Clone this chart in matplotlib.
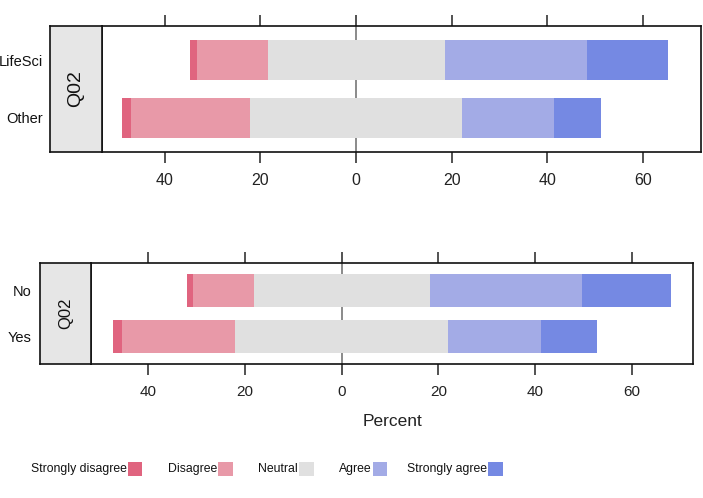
import matplotlib
matplotlib.use("Agg")
import matplotlib.pyplot as plt
from matplotlib.patches import Rectangle
import numpy as np

plt.rcParams['font.family'] = ['Liberation Sans', 'DejaVu Sans']

# response levels and colours
levels = ['Strongly disagree', 'Disagree', 'Neutral', 'Agree', 'Strongly agree']
colors = ['#E0647F', '#E899A8', '#E0E0E0', '#A3ABE6', '#7589E3']

# top panel (percent)
top_groups = ['LifeSci', 'Other']
top_sd = [1.5, 1.8]
top_d = [14.8, 25.0]
top_n = [37.0, 44.2]
top_a = [29.7, 19.3]
top_sa = [17.1, 9.9]

# bottom panel (percent)
bot_groups = ['No', 'Yes']
bot_sd = [1.4, 1.9]
bot_d = [12.5, 23.5]
bot_n = [36.4, 44.0]
bot_a = [31.6, 19.3]
bot_sa = [18.4, 11.6]

tick_vals = [-40, -20, 0, 20, 40, 60]
tick_labels = ['40', '20', '0', '20', '40', '60']
strip_label = 'Q02'

W, H = 703, 498
fig = plt.figure(figsize=(W / 100, H / 100), dpi=100)


def fr(x0, x1, y0, y1):
    # pixel box -> figure fraction rect
    return [x0 / W, 1 - y1 / H, (x1 - x0) / W, (y1 - y0) / H]


def panel(strip_box, plot_box, groups, sd, d, n, a, sa, xlim, fs_tick, fs_strip, fs_lab, lab_pad):
    ax = fig.add_axes(fr(*plot_box))
    st = fig.add_axes(fr(*strip_box))
    ypos = np.arange(len(groups), 0, -1)
    sd, d, n, a, sa = map(np.array, (sd, d, n, a, sa))
    half = n / 2
    ax.axvline(0, color='#8a8a8a', lw=1.4, zorder=0)
    # negative side
    ax.barh(ypos, -half, left=0, height=0.7, color=colors[2], zorder=2)
    ax.barh(ypos, -d, left=-half, height=0.7, color=colors[1], zorder=2)
    ax.barh(ypos, -sd, left=-half - d, height=0.7, color=colors[0], zorder=2)
    # positive side
    ax.barh(ypos, half, left=0, height=0.7, color=colors[2], zorder=2)
    ax.barh(ypos, a, left=half, height=0.7, color=colors[3], zorder=2)
    ax.barh(ypos, sa, left=half + a, height=0.7, color=colors[4], zorder=2)
    ax.set_xlim(*xlim)
    ax.set_ylim(0.41, len(groups) + 0.59)
    ax.set_yticks([])
    ax.set_xticks(tick_vals)
    ax.set_xticklabels(tick_labels)
    ax.tick_params(axis='x', top=True, bottom=True, direction='out', length=8,
                   width=1.3, color='#444444', labelsize=fs_tick, labelcolor='#222222', pad=7)
    for s in ax.spines.values():
        s.set_linewidth(1.2)
        s.set_color('#111111')

    st.set_facecolor('#E6E6E6')
    st.set_xlim(0, 1)
    st.set_ylim(ax.get_ylim())
    st.set_xticks([])
    st.set_yticks(ypos)
    st.set_yticklabels(groups)
    st.tick_params(axis='y', length=0, pad=lab_pad, labelsize=fs_lab, labelcolor='#111111')
    st.text(0.5, np.mean(ax.get_ylim()), strip_label, rotation=90, ha='center', va='center',
            fontsize=fs_strip, color='#111111')
    for s in st.spines.values():
        s.set_linewidth(1.2)
        s.set_color('#111111')
    return ax


panel((50, 102, 26, 152), (102, 701, 26, 152), top_groups,
      top_sd, top_d, top_n, top_a, top_sa, (-53.1, 72.1), 11.5, 14, 10.5, 5)
panel((40, 91, 262.7, 364.3), (91, 693, 262.7, 364.3), bot_groups,
      bot_sd, bot_d, bot_n, bot_a, bot_sa, (-51.9, 72.7), 11, 12, 10.5, 6)

fig.text(392 / W, 1 - 421.7 / H, 'Percent', ha='center', va='center', fontsize=12.5, color='#222222')

# legend drawn by hand: label to the left of each key
leg_patch_x = [127.7, 218, 299, 372.7, 488.3]
for lab, col, px in zip(levels, colors, leg_patch_x):
    fig.add_artist(Rectangle((px / W, 1 - 475.7 / H), 14.5 / W, 13.7 / H,
                             transform=fig.transFigure, facecolor=col, edgecolor='none'))
    fig.text((px - 1) / W, 1 - 469 / H, lab, ha='right', va='center', fontsize=8.8,
             color='#111111')

fig.savefig('out.png', dpi=100)
